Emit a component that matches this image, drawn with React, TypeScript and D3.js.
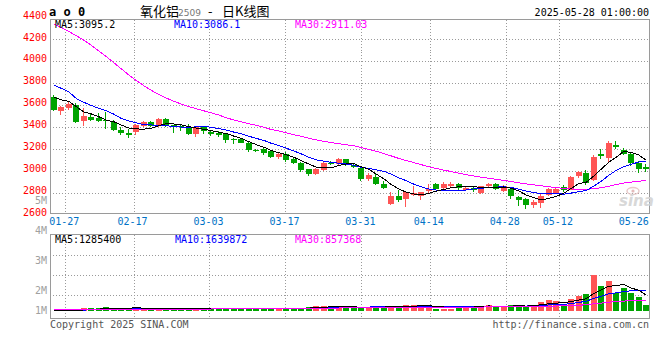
import React from "react";
import * as d3 from "d3";

const dates = [
  "01-23","01-24","01-27","02-05","02-06","02-07","02-10","02-11","02-12","02-13",
  "02-14","02-17","02-18","02-19","02-20","02-21","02-24","02-25","02-26","02-27",
  "02-28","03-03","03-04","03-05","03-06","03-07","03-10","03-11","03-12","03-13",
  "03-14","03-17","03-18","03-19","03-20","03-21","03-24","03-25","03-26","03-27",
  "03-28","03-31","04-01","04-02","04-03","04-07","04-08","04-09","04-10","04-11",
  "04-14","04-15","04-16","04-17","04-18","04-21","04-22","04-23","04-24","04-25",
  "04-28","04-29","04-30","05-06","05-07","05-08","05-09","05-12","05-13","05-14",
  "05-15","05-16","05-19","05-20","05-21","05-22","05-23","05-26","05-27","05-28"
];

const opens = [
  3676,3547,3572,3602,3449,3486,3480,3464,3446,3370,
  3342,3350,3409,3446,3409,3467,3415,3409,3400,3338,
  3394,3357,3348,3333,3287,3287,3256,3190,3195,3179,
  3127,3155,3109,3072,3011,2974,3002,3070,3057,3103,
  3051,3026,2928,2943,2879,2695,2766,2741,2775,2772,
  2811,2879,2842,2857,2879,2821,2842,2796,2857,2879,
  2811,2835,2760,2740,2690,2705,2781,2793,2848,2827,
  2949,2980,2919,3150,3118,3232,3190,3155,3068,3035
];
const highs = [
  3694,3585,3630,3618,3572,3517,3522,3532,3458,3394,
  3379,3430,3455,3450,3480,3477,3420,3430,3421,3410,
  3400,3365,3360,3340,3300,3300,3265,3200,3205,3185,
  3160,3170,3115,3080,3020,3025,3081,3090,3115,3110,
  3060,3030,2980,2975,2903,2809,2821,2815,2857,2810,
  2882,2890,2895,2900,2885,2860,2850,2865,2890,2885,
  2870,2845,2770,2750,2730,2790,2845,2850,2870,2950,
  3000,3005,3140,3201,3275,3270,3210,3165,3090,3057
];
const lows = [
  3540,3510,3553,3435,3409,3455,3440,3378,3366,3326,
  3302,3326,3400,3394,3400,3400,3348,3366,3329,3310,
  3330,3320,3310,3256,3247,3250,3174,3174,3140,3120,
  3103,3082,3060,2989,2950,2960,2995,3048,3050,3040,
  3025,2910,2905,2870,2835,2686,2711,2665,2765,2732,
  2800,2825,2830,2850,2815,2812,2805,2790,2850,2825,
  2805,2740,2677,2655,2660,2662,2770,2785,2810,2820,
  2930,2868,2905,3110,3082,3201,3140,3045,2978,2990
];
const closes = [
  3553,3578,3609,3440,3495,3464,3455,3449,3370,3345,
  3324,3415,3440,3409,3467,3415,3400,3394,3338,3394,
  3363,3333,3326,3278,3278,3256,3186,3188,3164,3127,
  3155,3097,3072,3005,2974,3017,3072,3066,3103,3050,
  3032,2925,2958,2879,2842,2766,2729,2805,2796,2802,
  2833,2833,2879,2879,2846,2842,2821,2857,2879,2836,
  2865,2765,2735,2690,2715,2765,2831,2836,2821,2940,
  2989,2885,3124,3135,3252,3216,3155,3070,3020,3015
];
const volumes = [
  40000,50000,50000,60000,220000,220000,215000,300000,220000,225000,
  210000,300000,220000,210000,225000,210000,220000,215000,220000,240000,
  220000,210000,225000,210000,220000,160000,210000,220000,215000,220000,
  225000,210000,220000,230000,300000,380000,380000,400000,300000,320000,
  220000,350000,320000,380000,320000,320000,380000,480000,480000,400000,
  352000,188000,201000,196000,422000,431000,347000,359000,475000,334000,
  329000,493000,486000,341000,498000,713000,854000,783000,519000,1001320,
  1230000,1400000,2911720,1980000,2450000,1480000,1880000,1430000,1150000,487000
];
// closes / volumes of the 29 sessions before the window (for the moving averages)
const preCloses = [
  4600,4620,4660,4682,4900,4960,5000,5028,5050,5000,
  4927,4850,4700,4560,4400,4300,4150,4050,3973,3930,
  3880,3920,4050,3840,3760,3700,3680,3680,3740
];
const preVolumes = [
  180000,170000,190000,175000,185000,165000,180000,170000,175000,185000,
  160000,180000,175000,170000,185000,175000,165000,180000,170000,175000,
  80000,70000,75000,65000,70000,60000,65000,70000,60000
];

const tickDates = ["01-27","02-17","03-03","03-17","03-31","04-14","04-28","05-12","05-26"];
const gridDates = ["01-27","02-17","03-03","03-17","03-31","04-14","04-28","05-12"];
const priceTicks = [2600,2800,3000,3200,3400,3600,3800,4000,4200,4400];
const priceGrid = [2800,3000,3200,3400,3600,3800,4000,4200];
const volTicks = [5,4,3,2,1];
const volTickLabels = ["5M","4M","3M","2M","1M"];
const priceMaLabels = ["MA5:3095.2","MA10:3086.1","MA30:2911.03"];
const volMaLabels = ["MA5:1285400","MA10:1639872","MA30:857368"];
const maPeriods = [5,10,30];
const maColors = ["#000000","#0000ff","#ff00ff"];

function movingAvg(pre: number[], vals: number[], n: number): number[] {
  const all = pre.concat(vals);
  return vals.map((_, i) => {
    const end = pre.length + i;
    let s = 0;
    for (let k = end - n + 1; k <= end; k++) s += all[k];
    return s / n;
  });
}

const MONO = "'DejaVu Sans Mono', monospace";
const UP = "#ff5555";
const DOWN = "#00a400";
const AXIS = "#9a9a9a";

export default function App() {
  const L = 50, R = 650;
  const top = 19.5, bottom = 213.5;
  const vTop = 234.5, vBottom = 318.5;
  const idx = d3.range(dates.length);
  const xBand = d3.scaleBand<number>().domain(idx).range([L, R]);
  const xGrid = d3.scalePoint<number>().domain(idx).range([L, R]);
  const cx = (i: number) => (xBand(i) as number) + xBand.bandwidth() / 2;
  const y = d3.scaleLinear().domain([2600, 4200]).range([214.6, 39]);
  const yv = d3.scaleLinear().domain([0, 4e6]).range([311, 261.4]);
  const volLabelY = d3.scaleLinear().domain([1, 2, 5]).range([314, 294, 204]);
  const volGridY = d3.scaleLinear().domain([0, 4]).range([235.5, 315.5]);

  const priceMAs = maPeriods.map((n) => movingAvg(preCloses, closes, n));
  const volMAs = maPeriods.map((n) => movingAvg(preVolumes, volumes, n));

  const lineP = d3.line<number>().x((_, i) => cx(i)).y((d) => y(d));
  const lineV = d3.line<number>().x((_, i) => cx(i)).y((d) => yv(d));

  const gridX = gridDates.map((d) => Math.round(xGrid(dates.indexOf(d)) as number) + 0.5);

  return (
    <svg width={660} height={360} style={{ position: "absolute", left: 0, top: 0 }}>
      <rect x={0} y={0} width={660} height={360} fill="#fff" />

      {/* grid main */}
      {priceGrid.map((p) => (
        <line key={"hg" + p} x1={L} x2={R} y1={Math.round(y(p)) + 0.5} y2={Math.round(y(p)) + 0.5}
          stroke={AXIS} strokeDasharray="1,2" shapeRendering="crispEdges" />
      ))}
      {gridX.map((x, k) => (
        <g key={"vg" + k}>
          <line x1={x} x2={x} y1={top} y2={bottom} stroke={AXIS} strokeDasharray="1,2" shapeRendering="crispEdges" />
          <line x1={x} x2={x} y1={vTop} y2={vBottom} stroke={AXIS} strokeDasharray="1,2" shapeRendering="crispEdges" />
        </g>
      ))}
      {[1, 2, 3].map((k) => (
        <line key={"vh" + k} x1={L} x2={R} y1={volGridY(k)} y2={volGridY(k)}
          stroke={AXIS} strokeDasharray="1,2" shapeRendering="crispEdges" />
      ))}

      {/* borders */}
      <rect x={L + 0.5} y={top} width={R - L - 1} height={bottom - top} fill="none" stroke={AXIS} shapeRendering="crispEdges" />
      <rect x={L + 0.5} y={vTop} width={R - L - 1} height={vBottom - vTop} fill="none" stroke={AXIS} shapeRendering="crispEdges" />

      {/* watermark */}
      <g opacity={0.9}>
        <ellipse cx={633} cy={191} rx={6} ry={3.5} fill="none" stroke="#e6c4c4" strokeWidth={1.5} />
        <circle cx={633} cy={191} r={1.6} fill="#e2b4b4" />
        <text x={619} y={206} fontFamily="'DejaVu Sans', sans-serif" fontStyle="italic" fontWeight="bold"
          fontSize={15} fill="#d4d4d4">sina</text>
      </g>

      {/* candles */}
      {idx.map((i) => {
        const o = opens[i], c = closes[i], h = highs[i], l = lows[i];
        const col = c >= o ? UP : DOWN;
        const bx = Math.round(cx(i) - 3);
        const t = Math.round(y(Math.max(o, c)));
        const b = Math.round(y(Math.min(o, c)));
        const wx = bx + 2.5;
        return (
          <g key={"c" + i}>
            <line x1={wx} x2={wx} y1={Math.round(y(h))} y2={Math.round(y(l))} stroke={col} shapeRendering="crispEdges" />
            <rect x={bx} y={t} width={6} height={Math.max(1, b - t)} fill={col} shapeRendering="crispEdges" />
          </g>
        );
      })}

      {/* price MAs */}
      {[2, 1, 0].map((k) => (
        <path key={"pm" + k} d={lineP(priceMAs[k]) || ""} fill="none" stroke={maColors[k]} strokeWidth={1} shapeRendering="crispEdges" />
      ))}

      {/* volume bars */}
      {idx.map((i) => {
        const col = closes[i] >= opens[i] ? UP : DOWN;
        const bx = Math.round(cx(i) - 3);
        const t = Math.round(yv(volumes[i]));
        const base = Math.round(yv(0));
        return <rect key={"v" + i} x={bx} y={t} width={6} height={Math.max(0, base - t)} fill={col} shapeRendering="crispEdges" />;
      })}
      {[1, 0, 2].map((k) => (
        <path key={"vm" + k} d={lineV(volMAs[k]) || ""} fill="none" stroke={maColors[k]} strokeWidth={1} shapeRendering="crispEdges" />
      ))}

      {/* y labels */}
      {priceTicks.map((p) => (
        <text key={"yl" + p} x={47} y={y(p) + 1.5} textAnchor="end" fontFamily={MONO} fontSize={10} fill="#ff0000">{p}</text>
      ))}
      {volTicks.map((v, k) => (
        <text key={"vl" + v} x={47} y={volLabelY(v)} textAnchor="end" fontFamily={MONO} fontSize={10} fill="#a0a0a0">{volTickLabels[k]}</text>
      ))}

      {/* x labels */}
      {tickDates.map((d) => (
        <text key={"xl" + d} x={(xGrid(dates.indexOf(d)) as number) - 1} y={225} textAnchor="middle"
          fontFamily={MONO} fontSize={10} fill="#0072c6">{d}</text>
      ))}

      {/* MA legends */}
      {priceMaLabels.map((s, k) => (
        <text key={"pl" + k} x={[55, 174, 295][k]} y={27.5} fontFamily={MONO} fontSize={10} fill={maColors[k]}>{s}</text>
      ))}
      {volMaLabels.map((s, k) => (
        <text key={"vml" + k} x={[55, 175, 295][k]} y={242.5} fontFamily={MONO} fontSize={10} fill={maColors[k]}>{s}</text>
      ))}

      {/* header */}
      <text x={49} y={16} fontFamily={MONO} fontWeight="bold" fontSize={12} fill="#000">a o 0</text>
      <text x={140} y={16} fontFamily="'Noto Sans CJK SC', sans-serif" fontSize={13} fill="#000">氧化铝</text>
      <text x={178} y={16} fontFamily="'DejaVu Sans', sans-serif" fontSize={9} fill="#777">2509</text>
      <text x={208} y={16} fontFamily="'Noto Sans CJK SC', sans-serif" fontSize={13} fill="#000">-</text>
      <text x={222} y={16} fontFamily="'Noto Sans CJK SC', sans-serif" fontSize={13} fill="#000">日K线图</text>
      <text x={649} y={16} textAnchor="end" fontFamily={MONO} fontSize={10} fill="#000">2025-05-28 01:00:00</text>

      {/* footer */}
      <text x={50} y={327.5} fontFamily={MONO} fontSize={10} fill="#555">Copyright 2025 SINA.COM</text>
      <text x={649} y={327.5} textAnchor="end" fontFamily={MONO} fontSize={10} fill="#555">http://finance.sina.com.cn</text>
    </svg>
  );
}
